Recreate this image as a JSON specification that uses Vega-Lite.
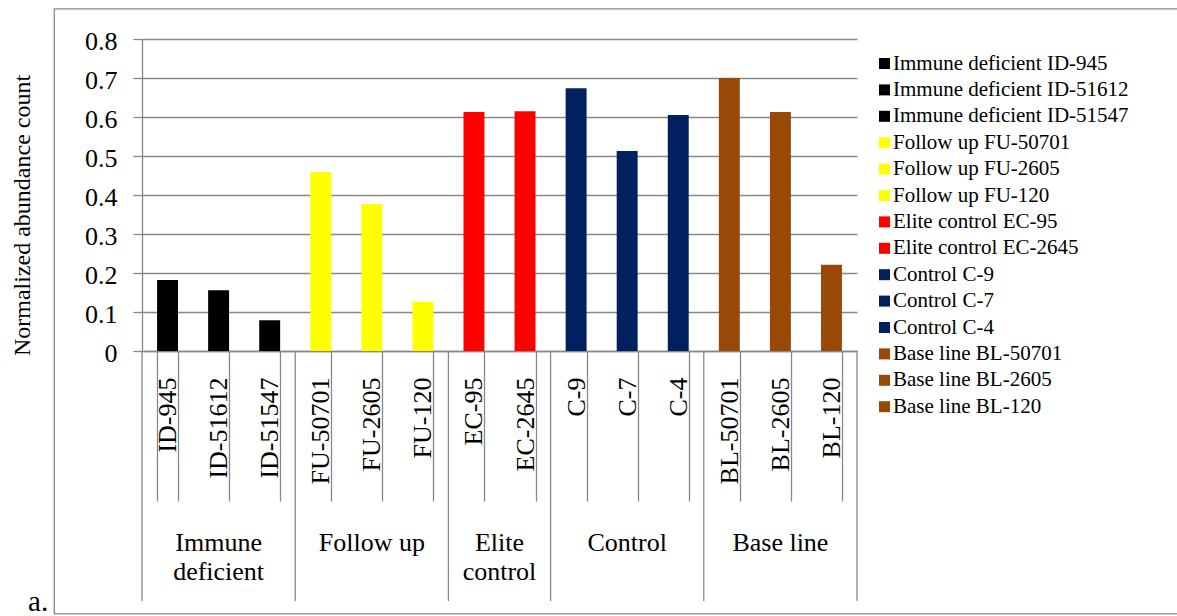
{
  "$schema": "https://vega.github.io/schema/vega-lite/v6.json",
  "width": 715,
  "height": 312,
  "autosize": {"type": "none"},
  "padding": {"left": 142, "top": 39, "right": 320, "bottom": 265},
  "background": "white",
  "config": {
    "font": "Liberation Serif, Times New Roman, serif",
    "view": {"stroke": null},
    "text": {"font": "Liberation Serif, Times New Roman, serif"},
    "axis": {"labelColor": "black", "titleColor": "black", "labelFont": "Liberation Serif, Times New Roman, serif", "titleFont": "Liberation Serif, Times New Roman, serif"},
    "legend": {"labelFont": "Liberation Serif, Times New Roman, serif", "titleFont": "Liberation Serif, Times New Roman, serif"}
  },
  "datasets": {
    "samples": [
      {"group": "Immune deficient", "sample": "ID-945", "series": "Immune deficient ID-945", "value": 0.182},
      {"group": "Immune deficient", "sample": "ID-51612", "series": "Immune deficient ID-51612", "value": 0.156},
      {"group": "Immune deficient", "sample": "ID-51547", "series": "Immune deficient ID-51547", "value": 0.079},
      {"group": "Follow up", "sample": "FU-50701", "series": "Follow up FU-50701", "value": 0.459},
      {"group": "Follow up", "sample": "FU-2605", "series": "Follow up FU-2605", "value": 0.377},
      {"group": "Follow up", "sample": "FU-120", "series": "Follow up FU-120", "value": 0.126},
      {"group": "Elite control", "sample": "EC-95", "series": "Elite control EC-95", "value": 0.613},
      {"group": "Elite control", "sample": "EC-2645", "series": "Elite control EC-2645", "value": 0.615},
      {"group": "Control", "sample": "C-9", "series": "Control C-9", "value": 0.674},
      {"group": "Control", "sample": "C-7", "series": "Control C-7", "value": 0.513},
      {"group": "Control", "sample": "C-4", "series": "Control C-4", "value": 0.605},
      {"group": "Base line", "sample": "BL-50701", "series": "Base line BL-50701", "value": 0.700},
      {"group": "Base line", "sample": "BL-2605", "series": "Base line BL-2605", "value": 0.613},
      {"group": "Base line", "sample": "BL-120", "series": "Base line BL-120", "value": 0.221}
    ],
    "groups": [
      {"group": "Immune deficient", "label": "Immune\ndeficient"},
      {"group": "Follow up", "label": "Follow up"},
      {"group": "Elite control", "label": "Elite\ncontrol"},
      {"group": "Control", "label": "Control"},
      {"group": "Base line", "label": "Base line"}
    ]
  },
  "data": {"name": "samples"},
  "resolve": {"scale": {"x": "independent", "y": "independent"}, "axis": {"x": "independent", "y": "independent"}},
  "layer": [
    {
      "data": {"values": [{"frame": "chart area"}]},
      "mark": {"type": "rect", "filled": false, "stroke": "#888888", "strokeWidth": 1.3},
      "encoding": {
        "x": {"datum": -1.717, "type": "quantitative", "scale": {"domain": [0, 14], "nice": false, "zero": false}, "axis": null},
        "x2": {"datum": 20.5},
        "y": {"datum": 0.877, "type": "quantitative", "scale": {"domain": [0, 0.8], "nice": false}, "axis": null},
        "y2": {"datum": -0.674}
      }
    },
    {
      "mark": {"type": "bar"},
      "encoding": {
        "x": {
          "field": "sample", "type": "nominal", "sort": null,
          "scale": {"paddingInner": 0.59, "paddingOuter": 0.295},
          "axis": {
            "title": null, "grid": false,
            "labelAngle": 270, "labelAlign": "right", "labelBaseline": "middle",
            "labelFont": "Liberation Serif, Times New Roman, serif", "labelFontSize": 26, "labelPadding": -124, "labelOverlap": false, "labelLimit": 0,
            "tickBand": "extent", "tickSize": 150, "tickColor": "#888888", "tickWidth": 1.3,
            "domainColor": "#888888", "domainWidth": 1.3
          }
        },
        "y": {
          "field": "value", "type": "quantitative",
          "scale": {"domain": [0, 0.8], "nice": false},
          "axis": {
            "title": "Normalized abundance count", "titleFont": "Liberation Serif, Times New Roman, serif", "titleFontSize": 24, "titleFontWeight": "normal",
            "titleX": -120, "titleY": 176, "titleBaseline": "middle",
            "values": [0, 0.1, 0.2, 0.3, 0.4, 0.5, 0.6, 0.7, 0.8], "format": "~g",
            "labelFont": "Liberation Serif, Times New Roman, serif", "labelFontSize": 26, "labelPadding": 16, "labelOffset": 2, "labelOverlap": false,
            "tickSize": 9, "tickColor": "#888888", "tickWidth": 1.3,
            "grid": true, "gridColor": "#888888", "gridWidth": 1.3,
            "domainColor": "#888888", "domainWidth": 1.3
          }
        },
        "color": {
          "field": "series", "type": "nominal", "sort": null,
          "scale": {
            "domain": [
              "Immune deficient ID-945", "Immune deficient ID-51612", "Immune deficient ID-51547",
              "Follow up FU-50701", "Follow up FU-2605", "Follow up FU-120",
              "Elite control EC-95", "Elite control EC-2645",
              "Control C-9", "Control C-7", "Control C-4",
              "Base line BL-50701", "Base line BL-2605", "Base line BL-120"
            ],
            "range": [
              "#000000", "#000000", "#000000",
              "#FFFF00", "#FFFF00", "#FFFF00",
              "#FF0000", "#FF0000",
              "#002060", "#002060", "#002060",
              "#984807", "#984807", "#984807"
            ]
          },
          "legend": {
            "title": null, "orient": "none", "legendX": 732, "legendY": 14,
            "padding": 0, "symbolType": "square", "symbolSize": 121, "symbolStrokeWidth": 0,
            "labelFont": "Liberation Serif, Times New Roman, serif", "labelFontSize": 21, "labelColor": "black", "labelOffset": -2, "labelLimit": 0,
            "rowPadding": 4.4
          }
        }
      }
    },
    {
      "transform": [
        {"window": [{"op": "row_number", "as": "idx"}]},
        {"aggregate": [{"op": "min", "field": "idx", "as": "first"}], "groupby": ["group"]}
      ],
      "mark": {"type": "rule", "color": "#888888", "strokeWidth": 1.3},
      "encoding": {
        "x": {"field": "first", "type": "quantitative", "scale": {"domain": [1, 15], "nice": false, "zero": false}, "axis": null},
        "y": {"datum": 0, "type": "quantitative", "scale": {"domain": [0, 0.8], "nice": false}, "axis": null},
        "y2": {"datum": -0.641}
      }
    },
    {
      "transform": [
        {"aggregate": [{"op": "count", "as": "n"}]}
      ],
      "mark": {"type": "rule", "color": "#888888", "strokeWidth": 1.3},
      "encoding": {
        "x": {"field": "n", "type": "quantitative", "scale": {"domain": [0, 14], "nice": false, "zero": false}, "axis": null},
        "y": {"datum": 0, "type": "quantitative", "scale": {"domain": [0, 0.8], "nice": false}, "axis": null},
        "y2": {"datum": -0.641}
      }
    },
    {
      "transform": [
        {"window": [{"op": "row_number", "as": "idx"}]},
        {"aggregate": [{"op": "mean", "field": "idx", "as": "center"}], "groupby": ["group"]},
        {"lookup": "group", "from": {"data": {"name": "groups"}, "key": "group", "fields": ["label"]}}
      ],
      "mark": {"type": "text", "font": "Liberation Serif, Times New Roman, serif", "align": "center", "baseline": "top", "fontSize": 26, "lineHeight": 29, "lineBreak": "\n", "color": "black"},
      "encoding": {
        "x": {"field": "center", "type": "quantitative", "scale": {"domain": [0.5, 14.5], "nice": false, "zero": false}, "axis": null},
        "y": {"datum": -0.46, "type": "quantitative", "scale": {"domain": [0, 0.8], "nice": false}, "axis": null},
        "text": {"field": "label", "type": "nominal"}
      }
    },
    {
      "data": {"values": [{"panel": "a."}]},
      "mark": {"type": "text", "font": "Liberation Serif, Times New Roman, serif", "align": "left", "baseline": "alphabetic", "fontSize": 29, "color": "black"},
      "encoding": {
        "x": {"datum": -2.232, "type": "quantitative", "scale": {"domain": [0, 14], "nice": false, "zero": false}, "axis": null},
        "y": {"datum": -0.667, "type": "quantitative", "scale": {"domain": [0, 0.8], "nice": false}, "axis": null},
        "text": {"field": "panel", "type": "nominal"}
      }
    }
  ]
}
